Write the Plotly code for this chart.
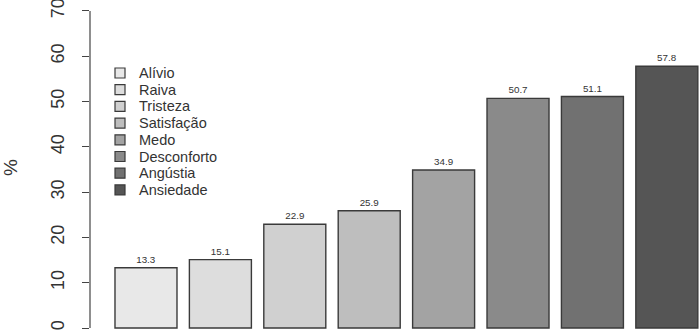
import plotly.graph_objects as go

categories = ["Alívio", "Raiva", "Tristeza", "Satisfação", "Medo", "Desconforto", "Angústia", "Ansiedade"]
values = [13.3, 15.1, 22.9, 25.9, 34.9, 50.7, 51.1, 57.8]
colors = ["#e8e8e8", "#dddddd", "#d0d0d0", "#bebebe", "#a3a3a3", "#8a8a8a", "#717171", "#555555"]
y_ticks = [0, 10, 20, 30, 40, 50, 60, 70]

FONT = "Liberation Sans, Arial, Helvetica"
W, H = 700, 335
ML = 90

fig = go.Figure()
for i, (cat, val, col) in enumerate(zip(categories, values, colors)):
    fig.add_trace(go.Bar(
        x=[0.7 + 1.2 * i], y=[val], width=1.0, name=cat, showlegend=False,
        marker=dict(color=col, line=dict(color="#3a3a3a", width=1.4)),
        text=[f"{val:.1f}"], textposition="outside", cliponaxis=False,
        textfont=dict(family=FONT, size=9.8, color="#333333"),
    ))

# axis line from 0 to 70 only (R style)
fig.add_shape(type="line", xref="paper", yref="y", x0=0, x1=0, y0=0, y1=70,
              line=dict(color="#444444", width=1.2))

# manual legend (R style, compact rows)
annotations = [dict(text="%", xref="paper", yref="paper", x=(10 - ML) / (W - ML), y=(H - 168) / H,
                    xanchor="center", yanchor="middle", showarrow=False, textangle=-90,
                    font=dict(family=FONT, size=19, color="#333333"))]
row0, step = 73.0, 16.7
sq_x0, sq_x1, txt_x = 115, 125, 137
for i, (cat, col) in enumerate(zip(categories, colors)):
    yc = row0 + step * i
    fig.add_shape(type="rect", xref="paper", yref="paper",
                  x0=(sq_x0 - ML) / (W - ML), x1=(sq_x1 - ML) / (W - ML),
                  y0=(H - yc - 5) / H, y1=(H - yc + 5) / H,
                  fillcolor=col, line=dict(color="#3a3a3a", width=1.2))
    annotations.append(dict(text=cat, xref="paper", yref="paper",
                            x=(txt_x - ML) / (W - ML), y=(H - yc) / H,
                            xanchor="left", yanchor="middle", showarrow=False,
                            font=dict(family=FONT, size=14.5, color="#333333")))

fig.update_layout(
    width=W, height=H,
    margin=dict(l=ML, r=0, t=0, b=0, autoexpand=False),
    plot_bgcolor="white", paper_bgcolor="white",
    barmode="overlay", showlegend=False,
    xaxis=dict(range=[-0.203, 9.635], visible=False, automargin=False),
    yaxis=dict(range=[-1.545, 72.42], tickvals=y_ticks, ticks="outside", ticklen=7,
               tickcolor="#444444", tickwidth=1.2, showgrid=False, zeroline=False, showline=False,
               tickangle=-90, automargin=False, ticklabelstandoff=11, ticklabeloverflow="allow",
               tickfont=dict(family=FONT, size=18, color="#333333")),
    annotations=annotations,
)

fig.write_html("out.html", config={"displayModeBar": False},
               post_script="document.body.style.margin='0';document.body.style.overflow='hidden';")
